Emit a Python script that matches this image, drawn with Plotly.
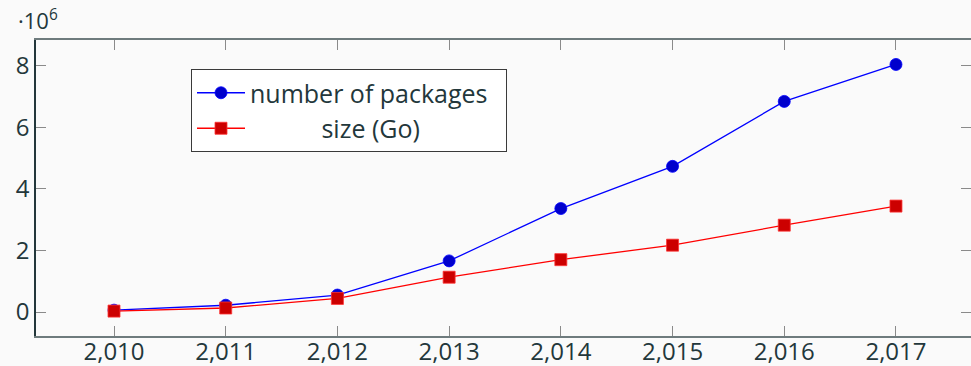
import plotly.graph_objects as go

years = [2010, 2011, 2012, 2013, 2014, 2015, 2016, 2017]
packages = [0.06e6, 0.22e6, 0.55e6, 1.66e6, 3.36e6, 4.73e6, 6.84e6, 8.04e6]
size_go = [0.03e6, 0.13e6, 0.44e6, 1.13e6, 1.70e6, 2.17e6, 2.82e6, 3.44e6]
y_tickvals = [0, 2e6, 4e6, 6e6, 8e6]
y_ticktext = ["0", "2", "4", "6", "8"]

FONT = "Open Sans"
TXT = "#23373b"
BG = "#fafafa"

fig = go.Figure()
fig.add_trace(go.Scatter(
    x=years, y=packages, mode="lines+markers", name="number of packages\u00a0\u00a0",
    line=dict(color="#0000ff", width=1.3),
    marker=dict(symbol="circle", size=12, color="#0000cc", line=dict(width=0.8, color="#0000ff")),
))
fig.add_trace(go.Scatter(
    x=years, y=size_go, mode="lines+markers",
    name="\u00a0" * 11 + "size (Go)",
    line=dict(color="#ff0000", width=1.3),
    marker=dict(symbol="square", size=12, color="#cc0000", line=dict(width=0.8, color="#ff3333")),
))

fig.update_layout(
    width=971, height=366,
    margin=dict(l=36, r=0, t=40, b=30, autoexpand=False),
    paper_bgcolor=BG, plot_bgcolor=BG,
    font=dict(family=FONT, size=24, color=TXT),
    showlegend=True,
    legend=dict(
        x=(191 - 36) / 935, y=1 - (69 - 40) / 296, xanchor="left", yanchor="top",
        bgcolor="#ffffff", bordercolor="#3a3a3a", borderwidth=1,
        font=dict(family=FONT, size=25, color=TXT),
        itemwidth=48, tracegroupgap=0,
    ),
    xaxis=dict(
        range=[2010 - 78 / 111.71, 2010 + (971 - 36 - 78) / 111.71],
        tickvals=years, tickformat=",d", automargin=False,
        ticks="inside", ticklen=10, tickcolor="#8a8a8a", tickwidth=1,
        ticklabelstandoff=-7,
        showline=True, linecolor="#6e7b7d", linewidth=1.5, mirror="ticks",
        showgrid=False, zeroline=False,
        tickfont=dict(family=FONT, size=24, color=TXT),
    ),
    yaxis=dict(
        range=[-0.7795e6, 8.834e6], automargin=False,
        tickvals=y_tickvals, ticktext=y_ticktext,
        ticks="inside", ticklen=10, tickcolor="#8a8a8a", tickwidth=1,
        showline=True, linecolor="#23373b", linewidth=1.5, mirror="ticks",
        showgrid=False, zeroline=False,
        tickfont=dict(family=FONT, size=24, color=TXT),
    ),
)
fig.add_annotation(
    text="·10<sup>6</sup>", xref="paper", yref="paper",
    x=(16 - 36) / 935, y=1 + (40 - 37) / 296, xanchor="left", yanchor="bottom",
    showarrow=False, font=dict(family=FONT, size=22, color=TXT),
)

fig.write_html("out.html")
